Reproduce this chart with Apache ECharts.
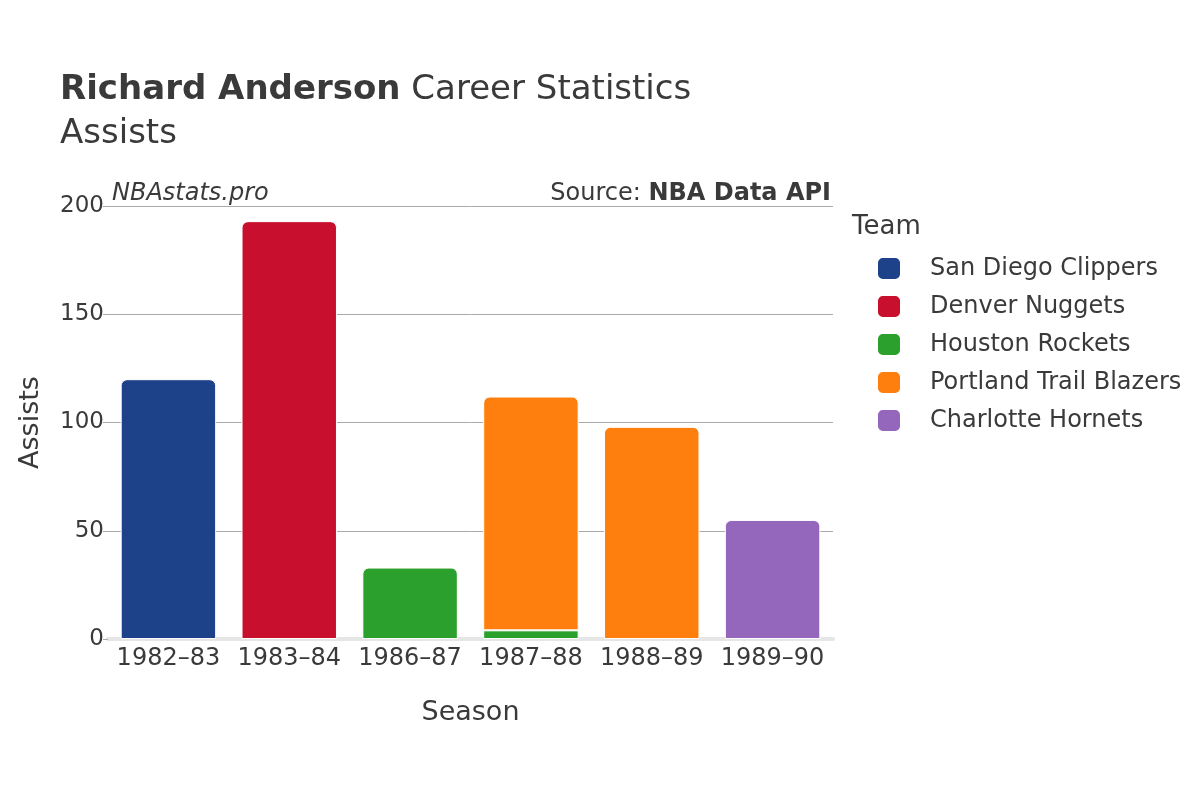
<!DOCTYPE html>
<html>
<head>
<meta charset="utf-8">
<script src="https://cdn.jsdelivr.net/npm/echarts@6/dist/echarts.min.js"></script>
<style>html,body{margin:0;padding:0;background:#fff}#c{width:1200px;height:800px}</style>
</head>
<body>
<div id="c"></div>
<script>
const seasons = ['1982–83', '1983–84', '1986–87', '1987–88', '1988–89', '1989–90'];
const teams = ['San Diego Clippers', 'Denver Nuggets', 'Houston Rockets', 'Portland Trail Blazers', 'Charlotte Hornets'];
const teamColors = ['#1d428a', '#c8102e', '#2ca02c', '#ff7f0e', '#9467bd'];
const clippers = [120, null, null, null, null, null];
const nuggets = [null, 193, null, null, null, null];
const rockets = [null, null, 33, 4, null, null];
const blazers = [null, null, null, 108, 98, null];
const hornets = [null, null, null, null, null, 55];
const yTicks = [0, 50, 100, 150, 200];

const teamValues = [clippers, nuggets, rockets, blazers, hornets];
const FONT = 'DejaVu Sans';
const TXT = '#3a3a3a';

function topIndex(s) {
  let top = -1;
  teamValues.forEach((arr, i) => { if (arr[s] != null) top = i; });
  return top;
}

const series = teams.map((name, ti) => ({
  name: name,
  type: 'bar',
  stack: 'total',
  barCategoryGap: '21%',
  itemStyle: { color: teamColors[ti], borderColor: '#ffffff', borderWidth: 1 },
  data: teamValues[ti].map((v, s) => (v == null ? null : {
    value: v,
    itemStyle: { borderRadius: topIndex(s) === ti ? [6, 6, 0, 0] : 0 }
  }))
}));

const chart = echarts.init(document.getElementById('c'), null, { renderer: 'canvas' });
chart.setOption({
  animation: false,
  backgroundColor: '#ffffff',
  textStyle: { fontFamily: FONT, color: TXT },
  title: [
    {
      left: 60, top: 73, padding: 0,
      text: '{b|Richard Anderson}{n| Career Statistics}',
      textStyle: {
        fontWeight: 'normal',
        rich: {
          b: { fontFamily: FONT, fontSize: 34, fontWeight: 'bold', color: TXT },
          n: { fontFamily: FONT, fontSize: 34, fontWeight: 'normal', color: TXT }
        }
      }
    },
    {
      left: 60, top: 117, padding: 0,
      text: 'Assists',
      textStyle: { fontFamily: FONT, fontSize: 34, fontWeight: 'normal', color: TXT }
    },
    {
      left: 852, top: 214, padding: 0,
      text: 'Team',
      textStyle: { fontFamily: FONT, fontSize: 26, fontWeight: 'normal', color: TXT }
    },
    {
      left: 112, top: 182, padding: 0,
      text: 'NBAstats.pro',
      textStyle: { fontFamily: FONT, fontSize: 24, fontStyle: 'italic', fontWeight: 'normal', color: TXT }
    },
    {
      right: 369, top: 182, padding: 0,
      text: 'Source: {b|NBA Data API}',
      textStyle: {
        fontFamily: FONT, fontSize: 24, fontWeight: 'normal', color: TXT,
        rich: { b: { fontFamily: FONT, fontSize: 24, fontWeight: 'bold', color: TXT } }
      }
    }
  ],
  legend: {
    orient: 'vertical',
    left: 876, top: 256, padding: 0,
    data: teams,
    icon: 'roundRect',
    itemWidth: 24, itemHeight: 23,
    itemGap: 13,
    textStyle: { fontFamily: FONT, fontSize: 24, color: TXT, padding: [0, 0, 0, 24], lineHeight: 23 }
  },
  grid: { left: 108, right: 367, top: 206, bottom: 161, containLabel: false },
  xAxis: {
    type: 'category',
    data: seasons,
    name: 'Season',
    nameLocation: 'middle',
    nameGap: 60,
    nameTextStyle: { fontFamily: FONT, fontSize: 27, color: TXT },
    axisLine: { show: true, lineStyle: { color: '#e6e6e6', width: 4 } },
    axisTick: { show: false },
    axisLabel: { fontFamily: FONT, fontSize: 24, color: TXT, margin: 8, interval: 0 }
  },
  yAxis: {
    type: 'value',
    min: 0, max: 200, interval: 50,
    name: 'Assists',
    nameLocation: 'middle',
    nameGap: 64,
    nameTextStyle: { fontFamily: FONT, fontSize: 27, color: TXT },
    axisLine: { show: false },
    axisTick: { show: true, length: 5, lineStyle: { color: '#aaaaaa' } },
    axisLabel: {
      fontFamily: FONT, fontSize: 23, color: TXT, margin: 4,
      formatter: v => (yTicks.indexOf(v) >= 0 ? String(v) : '')
    },
    splitLine: { show: true, lineStyle: { color: '#aaaaaa', width: 1 } }
  },
  series: series
});
</script>
</body>
</html>
